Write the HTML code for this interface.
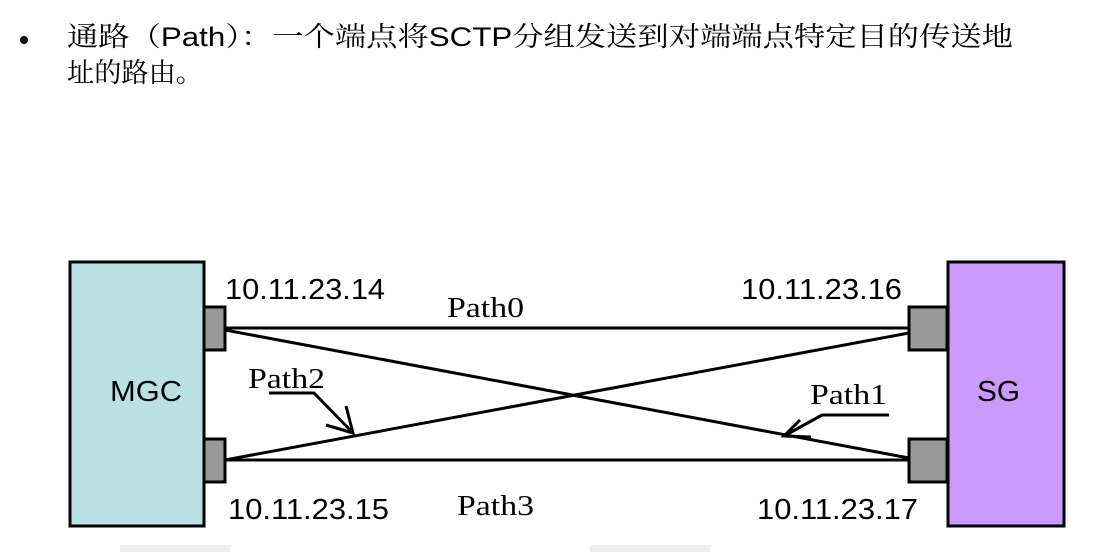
<!DOCTYPE html>
<html><head><meta charset="utf-8"><style>
html,body{margin:0;padding:0;background:#fff;width:1095px;height:552px;overflow:hidden}
</style></head><body>
<svg width="1095" height="552" xmlns="http://www.w3.org/2000/svg">
<rect x="0" y="0" width="1095" height="552" fill="#fff"/>
<rect x="120" y="545" width="110" height="7" fill="#eee"/>
<rect x="590" y="545" width="120" height="7" fill="#eee"/>
<circle cx="24" cy="40" r="4" fill="#000"/>
<text x="67" y="46" font-family="Liberation Sans, Noto Serif CJK SC, serif" font-size="27" textLength="946" lengthAdjust="spacingAndGlyphs">通路（Path）：一个端点将SCTP分组发送到对端端点特定目的传送地</text>
<text x="67" y="82" font-family="Noto Serif CJK SC, serif" font-size="27" textLength="136" lengthAdjust="spacingAndGlyphs">址的路由。</text>

<rect x="70" y="262" width="134" height="264" fill="#b9e0e3" stroke="#000" stroke-width="3"/>
<rect x="948" y="262" width="116" height="264" fill="#cc99ff" stroke="#000" stroke-width="3"/>
<g fill="#999" stroke="#000" stroke-width="3">
<rect x="204" y="307" width="21" height="43"/>
<rect x="204" y="439" width="21" height="43"/>
<rect x="909" y="307" width="38" height="43"/>
<rect x="909" y="439" width="38" height="43"/>
</g>
<g stroke="#000" stroke-width="3" fill="none">
<line x1="225" y1="328" x2="909" y2="328"/>
<line x1="225" y1="460" x2="909" y2="460"/>
<line x1="225" y1="330" x2="909" y2="458"/>
<line x1="225" y1="460" x2="909" y2="333"/>
<polyline points="269,393 314,393 353,433"/>
<polyline points="326,425 353,433 346,406"/>
<polyline points="889,415 822,415 784,436"/>
<polyline points="800,420 784,436 811,437"/>
</g>
<g font-family="Liberation Sans, sans-serif" font-size="29" fill="#000">
<text x="225" y="299" textLength="160" lengthAdjust="spacingAndGlyphs">10.11.23.14</text>
<text x="228" y="519" textLength="161" lengthAdjust="spacingAndGlyphs">10.11.23.15</text>
<text x="741" y="299" textLength="161" lengthAdjust="spacingAndGlyphs">10.11.23.16</text>
<text x="757" y="519" textLength="161" lengthAdjust="spacingAndGlyphs">10.11.23.17</text>
<text x="110" y="401" textLength="72" lengthAdjust="spacingAndGlyphs">MGC</text>
<text x="977" y="401" textLength="43" lengthAdjust="spacingAndGlyphs">SG</text>
</g>
<g font-family="Liberation Serif, serif" font-size="28" fill="#000">
<text x="447" y="317" textLength="77" lengthAdjust="spacingAndGlyphs">Path0</text>
<text x="248" y="388" textLength="77" lengthAdjust="spacingAndGlyphs">Path2</text>
<text x="810" y="404" textLength="77" lengthAdjust="spacingAndGlyphs">Path1</text>
<text x="457" y="515" textLength="77" lengthAdjust="spacingAndGlyphs">Path3</text>
</g>
</svg>
</body></html>
